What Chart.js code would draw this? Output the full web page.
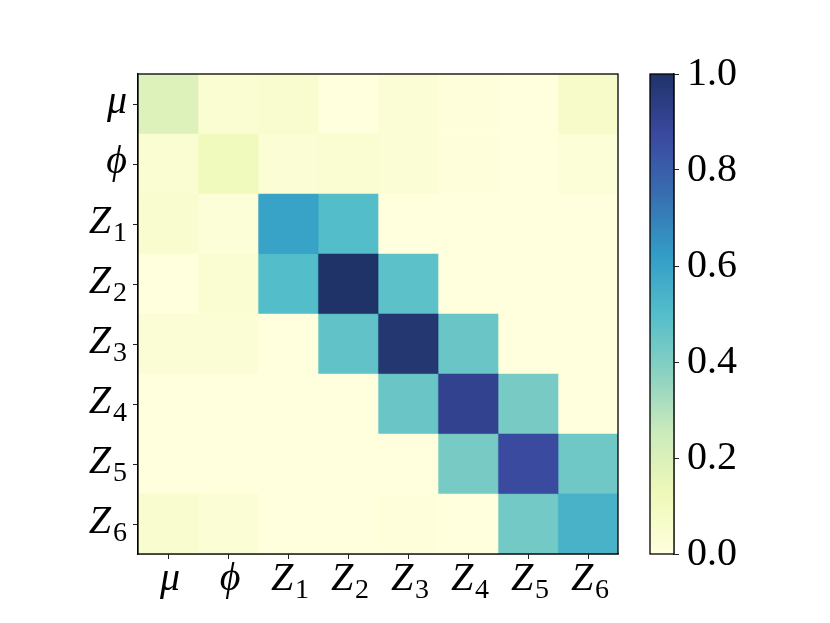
<!DOCTYPE html>
<html>
<head>
<meta charset="utf-8">
<script src="https://cdn.jsdelivr.net/npm/chart.js@4"></script>
<style>
  body { margin: 0; background: #fff; }
  #wrap { position: relative; width: 830px; height: 623px; }
  #heat { position: absolute; left: 0; top: 0; }
  #bar { position: absolute; left: 640px; top: 0; }
</style>
</head>
<body>
<div id="wrap">
  <canvas id="heat" width="640" height="623"></canvas>
  <canvas id="bar" width="190" height="623"></canvas>
</div>
<script>
// axis labels (rows top->bottom, cols left->right); trailing digits are drawn as subscripts
const rowLabels = ['μ', 'ϕ', 'Z1', 'Z2', 'Z3', 'Z4', 'Z5', 'Z6'];
const colLabels = ['μ', 'ϕ', 'Z1', 'Z2', 'Z3', 'Z4', 'Z5', 'Z6'];

// cell values, one array per row
const rowMu = [0.19, 0.04, 0.05, 0.00, 0.03, 0.01, 0.00, 0.07];
const rowPhi = [0.04, 0.11, 0.03, 0.04, 0.03, 0.01, 0.00, 0.02];
const rowZ1 = [0.05, 0.02, 0.60, 0.50, 0.00, 0.00, 0.00, 0.00];
const rowZ2 = [0.00, 0.04, 0.50, 1.00, 0.48, 0.00, 0.00, 0.00];
const rowZ3 = [0.03, 0.03, 0.00, 0.47, 0.98, 0.45, 0.00, 0.00];
const rowZ4 = [0.00, 0.00, 0.00, 0.00, 0.45, 0.91, 0.42, 0.00];
const rowZ5 = [0.00, 0.00, 0.00, 0.00, 0.00, 0.42, 0.87, 0.44];
const rowZ6 = [0.05, 0.03, 0.00, 0.00, 0.01, 0.00, 0.43, 0.54];
const matrix = [rowMu, rowPhi, rowZ1, rowZ2, rowZ3, rowZ4, rowZ5, rowZ6];

// colorbar ticks
const cbarTicks = [0, 0.2, 0.4, 0.6, 0.8, 1.0];

// YlGnBu colormap stops
const ylgnbu = [[255,255,217],[237,248,177],[199,233,180],[127,205,187],[65,182,196],
                [29,145,192],[34,94,168],[37,52,148],[8,29,88]];
const ALPHA = 0.9;

function cmap(v) {
  const t = Math.min(1, Math.max(0, v)) * 8;
  const i = Math.min(7, Math.floor(t));
  const f = t - i;
  const a = ylgnbu[i], b = ylgnbu[i + 1];
  const c = a.map((x, k) => Math.round(x + (b[k] - x) * f));
  return `rgba(${c[0]},${c[1]},${c[2]},${ALPHA})`;
}

const BASE_FONT = 'italic 40px "Liberation Serif"';
const SUB_FONT = '28px "Liberation Serif"';
const numFont = { family: 'Liberation Serif', size: 40 };

// draws a label like Z1 as italic Z with an upright subscript 1
function drawMath(ctx, label, x, y, align) {
  const base = label[0], sub = label.slice(1);
  ctx.font = BASE_FONT;
  const wb = ctx.measureText(base).width;
  ctx.font = SUB_FONT;
  const ws = sub ? ctx.measureText(sub).width + 2 : 0;
  const total = wb + ws;
  const x0 = align === 'right' ? x - total : x - total / 2;
  ctx.textAlign = 'left';
  ctx.textBaseline = 'alphabetic';
  ctx.fillStyle = '#000';
  ctx.font = BASE_FONT;
  ctx.fillText(base, x0, y);
  if (sub) {
    ctx.font = SUB_FONT;
    ctx.fillText(sub, x0 + wb + 2, y + 8);
  }
}

// black box around the plot area + math tick labels
const frame = {
  id: 'frame',
  afterDraw(chart) {
    const { ctx, chartArea: a, scales } = chart;
    ctx.save();
    ctx.strokeStyle = '#000';
    ctx.lineWidth = 1.3;
    ctx.strokeRect(a.left, a.top, a.right - a.left, a.bottom - a.top);
    if (chart.canvas.id === 'heat') {
      rowLabels.forEach((l, i) => drawMath(ctx, l, a.left - 11, scales.y.getPixelForTick(i) + 9, 'right'));
      colLabels.forEach((l, i) => drawMath(ctx, l, scales.x.getPixelForTick(i) + 2, a.bottom + 36, 'center'));
    }
    ctx.restore();
  }
};

new Chart(document.getElementById('heat'), {
  type: 'bar',
  data: {
    labels: rowLabels,
    datasets: colLabels.map((c, j) => ({
      label: c,
      data: rowLabels.map(() => 1),
      backgroundColor: matrix.map(r => cmap(r[j])),
      borderWidth: 0,
      barPercentage: 1,
      categoryPercentage: 1
    }))
  },
  options: {
    indexAxis: 'y',
    responsive: false,
    animation: false,
    layout: { padding: { top: 74, right: 22 } },
    plugins: { legend: { display: false }, tooltip: { enabled: false } },
    scales: {
      x: {
        stacked: true,
        min: 0,
        max: colLabels.length,
        afterBuildTicks: s => { s.ticks = colLabels.map((_, i) => ({ value: i + 0.5 })); },
        ticks: { callback: () => '', autoSkip: false },
        grid: { drawOnChartArea: false, tickLength: 5, color: '#222' },
        border: { color: '#000', width: 1.3 },
        afterFit: s => { s.height = 69; }
      },
      y: {
        stacked: true,
        grid: { offset: false, drawOnChartArea: false, tickLength: 5, color: '#222' },
        ticks: { callback: () => '' },
        border: { color: '#000', width: 1.3 },
        afterFit: s => { s.width = 138; }
      }
    }
  },
  plugins: [frame]
});

new Chart(document.getElementById('bar'), {
  type: 'bar',
  data: {
    labels: [''],
    datasets: [{
      data: [[cbarTicks[0], cbarTicks[cbarTicks.length - 1]]],
      backgroundColor: ctx => {
        const ca = ctx.chart.chartArea;
        if (!ca) return null;
        const g = ctx.chart.ctx.createLinearGradient(0, ca.bottom, 0, ca.top);
        ylgnbu.forEach((c, i) => g.addColorStop(i / 8, `rgba(${c[0]},${c[1]},${c[2]},${ALPHA})`));
        return g;
      },
      borderWidth: 0,
      barPercentage: 1,
      categoryPercentage: 1
    }]
  },
  options: {
    responsive: false,
    animation: false,
    layout: { padding: { top: 74, bottom: 69, left: 10 } },
    plugins: { legend: { display: false }, tooltip: { enabled: false } },
    scales: {
      x: { display: false },
      y: {
        position: 'right',
        min: 0,
        max: 1,
        afterBuildTicks: s => { s.ticks = cbarTicks.map(v => ({ value: v })); },
        ticks: { callback: v => v.toFixed(1), font: numFont, color: '#000', padding: 8 },
        grid: { drawOnChartArea: false, tickLength: 5, color: '#222' },
        border: { color: '#000', width: 1.3 },
        afterFit: s => { s.width = 156; }
      }
    }
  },
  plugins: [frame]
});
</script>
</body>
</html>
